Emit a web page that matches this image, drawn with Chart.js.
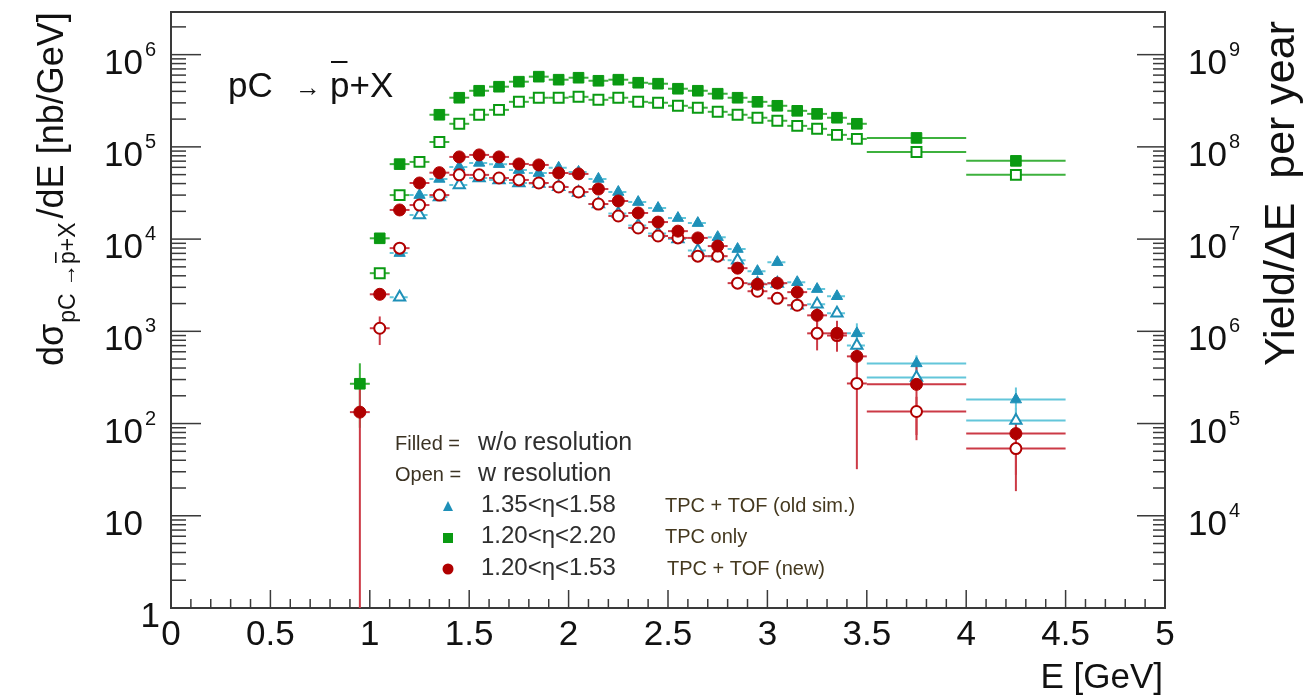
<!DOCTYPE html>
<html>
<head>
<meta charset="utf-8">
<script src="https://cdn.jsdelivr.net/npm/chart.js@4.4.0/dist/chart.umd.min.js"></script>
<style>
html, body { margin: 0; padding: 0; background: #fff; }
</style>
</head>
<body>
<canvas id="plot" width="1311" height="697"></canvas>
<script>
// bin centres and half widths [GeV]
const energy = [0.95, 1.05, 1.15, 1.25, 1.35, 1.45, 1.55, 1.65, 1.75, 1.85, 1.95, 2.05, 2.15, 2.25,
                2.35, 2.45, 2.55, 2.65, 2.75, 2.85, 2.95, 3.05, 3.15, 3.25, 3.35, 3.45, 3.75, 4.25];
const halfWidth = [0.05, 0.05, 0.05, 0.05, 0.05, 0.05, 0.05, 0.05, 0.05, 0.05, 0.05, 0.05, 0.05, 0.05,
                   0.05, 0.05, 0.05, 0.05, 0.05, 0.05, 0.05, 0.05, 0.05, 0.05, 0.05, 0.05, 0.25, 0.25];

// TPC only, 1.20<eta<2.20 (green)
const tpcOnlyFilled = [270, 10200, 65000, null, 223000, 341000, 406000, 449000, 509000, 577000, 535000, 562000, 521000, 535000,
                       496000, 484000, 427000, 406000, 377000, 341000, 308000, 279000, 246000, 228000, 207000, 178000, 125000, 70500];
const tpcOnlyOpen = [null, 4270, 30000, 68700, 113000, 178000, 223000, 252000, 308000, 341000, 341000, 349000, 324000, 341000,
                     308000, 301000, 279000, 266000, 240000, 223000, 207000, 192000, 169000, 157000, 135000, 122000, 88000, 49700];
const tpcOnlyFilledErr = [180, 0, 0, 0, 0, 0, 0, 0, 0, 0, 0, 0, 0, 0, 0, 0, 0, 0, 0, 0, 0, 0, 0, 0, 0, 0, 0, 0];
const tpcOnlyOpenErr = [0, 0, 0, 0, 0, 0, 0, 0, 0, 0, 0, 0, 0, 0, 0, 0, 0, 0, 0, 0, 0, 0, 0, 0, 0, 0, 0, 0];

// TPC + TOF (new), 1.20<eta<1.53 (red)
const tofNewFilled = [133, 2520, 20700, 40600, 52500, 77800, 81800, 77800, 65300, 63700, 52100, 50900, 34900, 25900,
                      19200, 15300, 12200, 10300, 8400, 4840, 3240, 3330, 2660, 1490, 951, 535, 266, 77.8];
const tofNewOpen = [null, 1080, 7980, 23400, 30000, 49700, 49700, 46000, 43800, 40600, 36700, 32400, 24000, 17800,
                    13200, 10800, 10300, 6530, 6530, 3330, 2720, 2280, 1920, 951, 900, 272, 135, 53.5];
const tofNewFilledErr = [140, 0, 0, 0, 0, 0, 0, 0, 0, 0, 0, 0, 0, 0, 0, 0, 0, 0, 0, 0, 0, 0, 0, 400, 350, 300, 200, 50];
const tofNewOpenErr = [0, 370, 0, 0, 0, 0, 0, 0, 0, 0, 0, 0, 0, 0, 0, 0, 0, 0, 0, 0, 0, 0, 0, 330, 0, 240, 60, 35];

// TPC + TOF (old sim.), 1.35<eta<1.58 (cyan)
const tofOldFilled = [null, null, 7050, 30000, 44900, 60600, 67000, 65000, 56000, 52000, 59200, 53500, 44900, 32400,
                      25200, 21700, 16900, 14900, 10500, 7800, 4490, 5620, 3410, 2870, 2400, 951, 449, 182];
const tofOldOpen = [null, null, 2340, 18200, 28600, 38600, 46000, 43800, 40600, 40000, 37000, 32000, 24000, 19000,
                    14000, 11500, 10000, 7500, 6500, 5900, 3300, 3300, 1920, 1960, 1570, 700, 316, 108];
const tofOldFilledErr = [0, 0, 0, 0, 0, 0, 0, 0, 0, 0, 0, 0, 0, 0, 0, 0, 0, 0, 0, 0, 0, 0, 0, 0, 0, 270, 100, 64];
const tofOldOpenErr = [0, 0, 0, 0, 0, 0, 0, 0, 0, 0, 0, 0, 0, 0, 0, 0, 0, 0, 0, 0, 0, 0, 0, 0, 0, 0, 30, 40];

const leftTicks = [1, 10, 100, 1e3, 1e4, 1e5, 1e6];
const rightTicks = [1e4, 1e5, 1e6, 1e7, 1e8, 1e9];

const FONT = "'Liberation Sans', Arial, Helvetica, sans-serif";
const GREEN = '#0a9a12', GREEN_BAR = '#3db13d';
const RED = '#b00000', RED_BAR = '#cc3a46';
const CYAN = '#1e90b8', CYAN_BAR = '#63c6da';
const AXIS = '#3a3a3a';

function points(ys) {
    return energy.map((e, i) => ({ x: e, y: ys[i] }));
}

function makeSet(label, ys, err, style, color, barColor, open, radius, dashed) {
    return {
        label: label,
        data: points(ys),
        yErr: err,
        barColor: barColor,
        dashedBars: dashed,
        showLine: false,
        pointStyle: style,
        pointRadius: radius,
        pointHoverRadius: radius,
        pointBackgroundColor: open ? '#ffffff' : color,
        pointBorderColor: color,
        pointBorderWidth: open ? 2 : 1
    };
}

// first dataset is drawn on top
const datasets = [
    makeSet('1.20<η<1.53 filled', tofNewFilled, tofNewFilledErr, 'circle', RED, RED_BAR, false, 6, false),
    makeSet('1.20<η<1.53 open', tofNewOpen, tofNewOpenErr, 'circle', RED, RED_BAR, true, 5.5, false),
    makeSet('1.35<η<1.58 filled', tofOldFilled, tofOldFilledErr, 'triangle', CYAN, CYAN_BAR, false, 6.5, true),
    makeSet('1.35<η<1.58 open', tofOldOpen, tofOldOpenErr, 'triangle', CYAN, CYAN_BAR, true, 6.5, true),
    makeSet('1.20<η<2.20 filled', tpcOnlyFilled, tpcOnlyFilledErr, 'rect', GREEN, GREEN_BAR, false, 7.5, false),
    makeSet('1.20<η<2.20 open', tpcOnlyOpen, tpcOnlyOpenErr, 'rect', GREEN, GREEN_BAR, true, 7, false)
];

function line(ctx, x0, y0, x1, y1) {
    ctx.beginPath();
    ctx.moveTo(x0, y0);
    ctx.lineTo(x1, y1);
    ctx.stroke();
}

function powerLabel(ctx, value, px, py, side) {
    const exp = Math.round(Math.log10(value));
    ctx.fillStyle = '#111';
    ctx.textBaseline = 'alphabetic';
    if (exp === 0 || exp === 1) {
        ctx.font = '35px ' + FONT;
        ctx.textAlign = side === 'left' ? 'right' : 'left';
        const x = side === 'left' ? (exp === 0 ? px - 11 : px - 28) : px + 23;
        ctx.fillText(exp === 0 ? '1' : '10', x, py + 19);
        return;
    }
    ctx.font = '35px ' + FONT;
    if (side === 'left') {
        ctx.textAlign = 'right';
        ctx.fillText('10', px - 28, py + 19);
        ctx.font = '20px ' + FONT;
        ctx.textAlign = 'left';
        ctx.fillText(String(exp), px - 26, py + 1);
    } else {
        ctx.textAlign = 'left';
        ctx.fillText('10', px + 23, py + 19);
        const w = ctx.measureText('10').width;
        ctx.font = '20px ' + FONT;
        ctx.fillText(String(exp), px + 25 + w, py + 1);
    }
}

const decor = {
    id: 'decor',
    beforeDatasetsDraw(chart) {
        const { ctx, chartArea: a, scales: { x, y } } = chart;
        ctx.save();
        ctx.beginPath();
        ctx.rect(a.left, a.top, a.right - a.left, a.bottom - a.top);
        ctx.clip();
        ctx.lineWidth = 2;
        for (let d = chart.data.datasets.length - 1; d >= 0; d--) {
            const ds = chart.data.datasets[d];
            ctx.strokeStyle = ds.barColor;
            ds.data.forEach((p, i) => {
                if (p.y == null) return;
                const px = x.getPixelForValue(p.x);
                const py = y.getPixelForValue(p.y);
                ctx.setLineDash(ds.dashedBars && halfWidth[i] < 0.1 ? [4, 3] : []);
                line(ctx, x.getPixelForValue(p.x - halfWidth[i]), py, x.getPixelForValue(p.x + halfWidth[i]), py);
                const e = ds.yErr[i];
                if (e) {
                    ctx.setLineDash([]);
                    const lo = p.y - e > y.min ? y.getPixelForValue(p.y - e) : a.bottom;
                    line(ctx, px, y.getPixelForValue(p.y + e), px, lo);
                }
            });
        }
        ctx.restore();
    },
    afterDraw(chart) {
        const { ctx, chartArea: a, scales: { x, y, y2 } } = chart;
        ctx.save();

        // frame top and inner ticks
        ctx.strokeStyle = AXIS;
        ctx.lineWidth = 2;
        line(ctx, a.left, a.top, a.right, a.top);
        ctx.lineWidth = 1.5;
        for (let k = 0; k <= 50; k++) {
            const px = x.getPixelForValue(k / 10);
            line(ctx, px, a.bottom, px, a.bottom - (k % 5 === 0 ? 18 : 9));
        }
        for (let e = 0; e <= 6; e++) {
            for (let m = 1; m <= 9; m++) {
                const v = m * Math.pow(10, e);
                if (v > y.max) break;
                const py = y.getPixelForValue(v);
                line(ctx, a.left, py, a.left + (m === 1 ? 30 : 15), py);
            }
        }
        for (let e = 3; e <= 9; e++) {
            for (let m = 1; m <= 9; m++) {
                const v = m * Math.pow(10, e);
                if (v > y2.max) break;
                const py = y2.getPixelForValue(v);
                line(ctx, a.right, py, a.right - (m === 1 ? 28 : 12), py);
            }
        }

        // tick labels with exponents
        leftTicks.forEach(v => powerLabel(ctx, v, a.left, y.getPixelForValue(v), 'left'));
        rightTicks.forEach(v => powerLabel(ctx, v, a.right, y2.getPixelForValue(v), 'right'));

        // x title
        ctx.fillStyle = '#111';
        ctx.font = '35px ' + FONT;
        ctx.textAlign = 'right';
        ctx.textBaseline = 'alphabetic';
        ctx.fillText('E [GeV]', a.right - 2, 688);

        // left title
        ctx.save();
        ctx.translate(63, 366);
        ctx.rotate(-Math.PI / 2);
        ctx.textAlign = 'left';
        ctx.font = '36px ' + FONT;
        ctx.fillText('dσ', 0, 0);
        let cx = ctx.measureText('dσ').width + 1;
        ctx.font = '23px ' + FONT;
        ctx.fillText('pC →', cx, 12);
        cx += ctx.measureText('pC →').width;
        const pw = ctx.measureText('p').width;
        ctx.fillText('p+X', cx, 12);
        ctx.fillRect(cx + 1, -8, pw - 2, 1.6);
        cx += ctx.measureText('p+X').width + 4;
        ctx.font = '36px ' + FONT;
        ctx.fillText('/dE [nb/GeV]', cx, 0);
        ctx.restore();

        // right title
        ctx.save();
        ctx.translate(1294, 366);
        ctx.rotate(-Math.PI / 2);
        ctx.textAlign = 'left';
        ctx.font = '43px ' + FONT;
        ctx.fillText('Yield/ΔE  per year', 0, 0);
        ctx.restore();

        // reaction label
        ctx.textAlign = 'left';
        ctx.font = '35px ' + FONT;
        ctx.fillText('pC', 228, 97);
        ctx.font = '26px ' + FONT;
        ctx.fillText('→', 295, 96);
        ctx.font = '35px ' + FONT;
        ctx.fillText('p+X', 330, 97);
        ctx.fillRect(331, 61, ctx.measureText('p').width - 3, 2);

        // legend
        ctx.fillStyle = '#3b3222';
        ctx.font = '20px ' + FONT;
        ctx.fillText('Filled =', 395, 450);
        ctx.fillText('Open =', 395, 481);
        ctx.fillStyle = '#2e2e2e';
        ctx.font = '25px ' + FONT;
        ctx.fillText('w/o resolution', 478, 450);
        ctx.fillText('w resolution', 478, 481);
        ctx.font = '24px ' + FONT;
        ctx.fillText('1.35<η<1.58', 481, 512);
        ctx.fillText('1.20<η<2.20', 481, 543);
        ctx.fillText('1.20<η<1.53', 481, 575);
        ctx.fillStyle = '#45391f';
        ctx.font = '20px ' + FONT;
        ctx.fillText('TPC + TOF (old sim.)', 665, 512);
        ctx.fillText('TPC only', 665, 543);
        ctx.fillText('TPC + TOF (new)', 667, 575);

        ctx.fillStyle = CYAN;
        ctx.beginPath();
        ctx.moveTo(448, 501); ctx.lineTo(453, 511); ctx.lineTo(443, 511);
        ctx.closePath(); ctx.fill();
        ctx.fillStyle = GREEN;
        ctx.fillRect(443, 533, 10, 10);
        ctx.fillStyle = RED;
        ctx.beginPath();
        ctx.arc(448, 569, 5.5, 0, Math.PI * 2);
        ctx.fill();

        ctx.restore();
    }
};

new Chart(document.getElementById('plot'), {
    type: 'scatter',
    data: { datasets: datasets },
    options: {
        responsive: false,
        animation: false,
        layout: { padding: { top: 12, left: 0, right: 0, bottom: 0 } },
        plugins: { legend: { display: false }, tooltip: { enabled: false } },
        scales: {
            x: {
                type: 'linear', position: 'bottom', min: 0, max: 5,
                ticks: { stepSize: 0.5, autoSkip: false, maxRotation: 0, padding: 6, color: '#111',
                         font: { size: 35, family: FONT },
                         callback: v => String(Math.round(v * 10) / 10) },
                grid: { display: false, drawTicks: false },
                border: { display: true, color: AXIS, width: 2 },
                afterFit: s => { s.height = 89; }
            },
            y: {
                type: 'logarithmic', position: 'left', min: 1, max: 2.9e6,
                ticks: { display: false },
                grid: { display: false, drawTicks: false },
                border: { display: true, color: AXIS, width: 2 },
                afterFit: s => { s.width = 171; }
            },
            y2: {
                type: 'logarithmic', position: 'right', min: 1000, max: 2.9e9,
                ticks: { display: false },
                grid: { display: false, drawTicks: false },
                border: { display: true, color: AXIS, width: 2 },
                afterFit: s => { s.width = 146; }
            }
        }
    },
    plugins: [decor]
});
</script>
</body>
</html>
